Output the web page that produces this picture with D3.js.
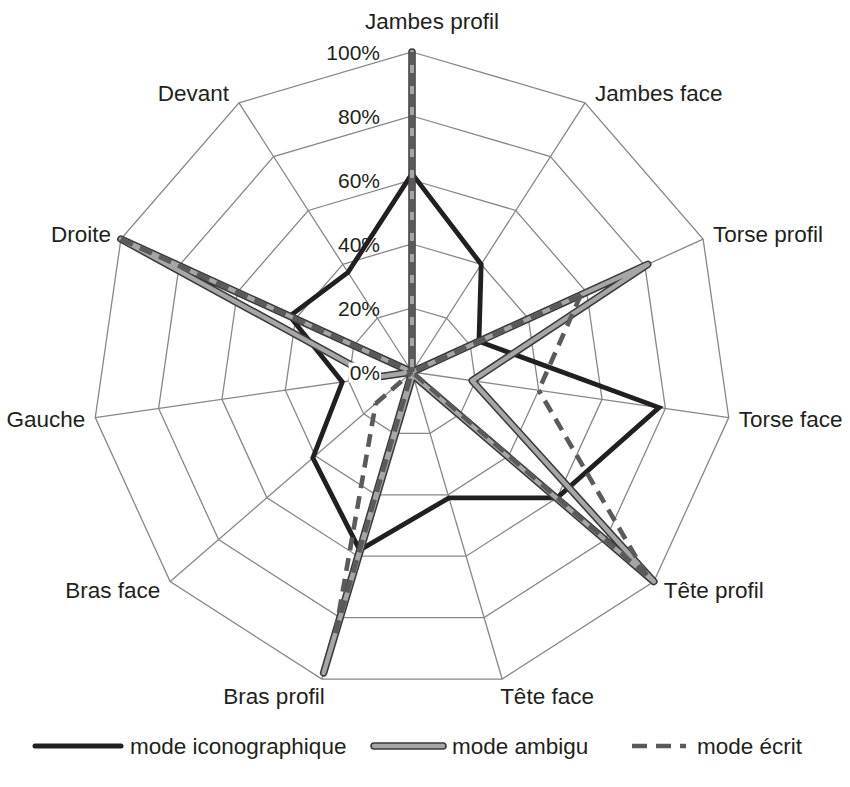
<!DOCTYPE html>
<html>
<head>
<meta charset="utf-8">
<script src="https://cdn.jsdelivr.net/npm/d3@7"></script>
<style>
  html, body { margin: 0; padding: 0; background: #fff; }
  svg { display: block; }
  text { font-family: "Liberation Sans", Arial, Helvetica, sans-serif; fill: #231f20; }
</style>
</head>
<body>
<svg id="chart" width="850" height="787"></svg>
<script>
// Axes of the radar, clockwise from the top
const categories = ["Jambes profil", "Jambes face", "Torse profil", "Torse face", "Tête profil",
  "Tête face", "Bras profil", "Bras face", "Gauche", "Droite", "Devant"];

// Share of each series per axis (%)
const iconographique = [62, 40, 23, 78, 60, 41, 58, 41, 22, 42, 37];
const ambigu         = [100, 0, 81, 19, 100, 1, 98, 0, 12, 100, 0];
const ecrit          = [100, 0, 58, 40, 97, 0, 85, 15, 0, 100, 0];

const seriesNames = ["mode iconographique", "mode ambigu", "mode écrit"];
const tickValues = [0, 20, 40, 60, 80, 100];
const tickLabels = ["0%", "20%", "40%", "60%", "80%", "100%"];

const svg = d3.select("#chart");
const cx = 412, cy = 372, R = 320;
const n = categories.length;
const labelSize = 22.5, tickSize = 21;

const r = d3.scaleLinear().domain([0, 100]).range([0, R]);
const angle = d3.scaleLinear().domain([0, n]).range([0, 2 * Math.PI]);
const px = (v, i) => r(v) * Math.sin(angle(i));
const py = (v, i) => -r(v) * Math.cos(angle(i));

const g = svg.append("g").attr("transform", `translate(${cx},${cy})`);

// Grid: rings and spokes
const ringLine = d3.lineRadial()
  .angle((d, i) => angle(i))
  .radius(d => r(d))
  .curve(d3.curveLinearClosed);

const gridColor = "#878787";
g.append("g").selectAll("path")
  .data(tickValues.filter(v => v > 0))
  .join("path")
  .attr("d", v => ringLine(categories.map(() => v)))
  .attr("fill", "none")
  .attr("stroke", gridColor)
  .attr("stroke-width", 1.3);

g.append("g").selectAll("line")
  .data(categories)
  .join("line")
  .attr("x1", 0).attr("y1", 0)
  .attr("x2", (d, i) => px(100, i))
  .attr("y2", (d, i) => py(100, i))
  .attr("stroke", gridColor)
  .attr("stroke-width", 1.3);

// Series
const seriesLine = d3.lineRadial()
  .angle((d, i) => angle(i))
  .radius(d => r(d))
  .curve(d3.curveLinearClosed);

g.append("path")
  .attr("d", seriesLine(iconographique))
  .attr("fill", "none")
  .attr("stroke", "#231f20")
  .attr("stroke-width", 4.8)
  .attr("stroke-linejoin", "miter");

g.append("path")
  .attr("d", seriesLine(ambigu))
  .attr("fill", "none")
  .attr("stroke", "#3a3a3a")
  .attr("stroke-width", 7.5)
  .attr("stroke-linejoin", "round");
g.append("path")
  .attr("d", seriesLine(ambigu))
  .attr("fill", "none")
  .attr("stroke", "#a6a6a6")
  .attr("stroke-width", 4.4)
  .attr("stroke-linejoin", "round");

// Dashed series drawn edge by edge, each dash pattern starting from the outer end
// so that edges running back along the same spoke keep their gaps aligned
const ecritEdges = ecrit.map((v, i) => {
  const j = (i + 1) % n;
  const a = { x: px(v, i), y: py(v, i), v };
  const b = { x: px(ecrit[j], j), y: py(ecrit[j], j), v: ecrit[j] };
  return a.v >= b.v ? [a, b] : [b, a];
});
const edgeLine = d3.line().x(d => d.x).y(d => d.y);
g.append("g").selectAll("path")
  .data(ecritEdges)
  .join("path")
  .attr("d", edgeLine)
  .attr("fill", "none")
  .attr("stroke", "#5a5a5a")
  .attr("stroke-width", 4.6)
  .attr("stroke-dasharray", "13,8");

// Value axis labels along the top spoke
const tickG = g.append("g");
tickValues.forEach((v, i) => {
  const t = tickG.append("text")
    .attr("x", -32)
    .attr("y", -r(v))
    .attr("dy", "0.36em")
    .attr("text-anchor", "end")
    .attr("font-size", tickSize)
    .text(tickLabels[i]);
  if (v === 0) {
    const bb = t.node().getBBox();
    tickG.insert("rect", "text")
      .attr("x", bb.x - 1).attr("y", bb.y + 2)
      .attr("width", bb.width + 2).attr("height", bb.height - 3)
      .attr("fill", "#fff");
  }
});

// Category labels placed just outside the outer ring
const labelG = g.append("g");
categories.forEach((c, i) => {
  const a = angle(i);
  const dx = Math.sin(a), dy = -Math.cos(a);
  const ex = px(100, i), ey = py(100, i);
  const t = labelG.append("text")
    .attr("font-size", labelSize)
    .attr("text-anchor", "middle")
    .attr("dy", "0.36em")
    .text(c);
  const w = t.node().getComputedTextLength();
  let x, y;
  if (Math.abs(dx) < 0.05) {
    x = ex + 20;
    y = ey + dy * 31;
  } else {
    const s = Math.max(-1, Math.min(1, dx * 2.8));
    x = ex + s * (10 + w / 2);
    y = ey + (Math.abs(dy) > 0.9 ? 18 : 12) * dy;
  }
  t.attr("x", x).attr("y", y);
});

// Legend
const legend = svg.append("g").attr("transform", "translate(0,746)");
const legendItems = [
  { name: seriesNames[0], x0: 35, x1: 121, tx: 130 },
  { name: seriesNames[1], x0: 374, x1: 443, tx: 452 },
  { name: seriesNames[2], x0: 632, x1: 686, tx: 697 }
];

legend.append("line")
  .attr("x1", legendItems[0].x0).attr("x2", legendItems[0].x1)
  .attr("stroke", "#231f20").attr("stroke-width", 5).attr("stroke-linecap", "round");

legend.append("line")
  .attr("x1", legendItems[1].x0).attr("x2", legendItems[1].x1)
  .attr("stroke", "#3a3a3a").attr("stroke-width", 7.5).attr("stroke-linecap", "round");
legend.append("line")
  .attr("x1", legendItems[1].x0).attr("x2", legendItems[1].x1)
  .attr("stroke", "#a6a6a6").attr("stroke-width", 4.4).attr("stroke-linecap", "round");

legend.append("line")
  .attr("x1", legendItems[2].x0).attr("x2", legendItems[2].x1)
  .attr("stroke", "#5a5a5a").attr("stroke-width", 4.6)
  .attr("stroke-dasharray", "15,9");

legend.selectAll("text")
  .data(legendItems)
  .join("text")
  .attr("x", d => d.tx)
  .attr("y", 0)
  .attr("dy", "0.36em")
  .attr("font-size", labelSize)
  .text(d => d.name);
</script>
</body>
</html>
